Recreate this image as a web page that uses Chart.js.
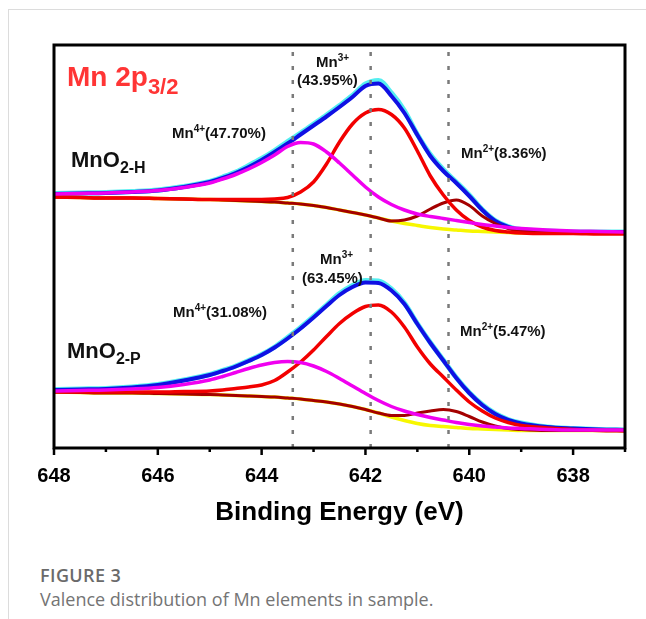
<!DOCTYPE html>
<html>
<head>
<meta charset="utf-8">
<script src="https://cdn.jsdelivr.net/npm/chart.js@4.4.1/dist/chart.umd.min.js"></script>
<style>
  body { margin: 0; background: #fff; }
  #card { position: absolute; left: 8px; top: 9px; right: 0; bottom: 0; border-top: 1px solid #dcdcdc; border-left: 1px solid #dcdcdc; }
  #wrap { position: absolute; left: 0; top: 0; width: 646px; height: 540px; }
  .cap { position: absolute; left: 40px; font-family: "Open Sans", sans-serif; white-space: nowrap; }
  #figno { top: 563px; font-size: 18px; font-weight: 600; letter-spacing: 0.4px; color: #6a6a6a; }
  #figtxt { top: 587px; font-size: 18px; color: #747474; }
</style>
</head>
<body>
<div id="card"></div>
<div id="wrap"><canvas id="xps"></canvas></div>
<div class="cap" id="figno">FIGURE 3</div>
<div class="cap" id="figtxt">Valence distribution of Mn elements in sample.</div>
<script>
// binding energy grid (eV), shared by every curve
const energy = [648, 647.5, 647, 646.5, 646, 645.5, 645, 644.75, 644.5, 644.25, 644, 643.75, 643.5, 643.25, 643,
  642.75, 642.5, 642.25, 642, 641.75, 641.5, 641.25, 641, 640.75, 640.5, 640.25, 640, 639.75, 639.5, 639.25, 639,
  638.5, 638, 637.5, 637];

// MnO2-H (upper trace, offset)
const hRaw      = [254.5, 255, 255.5, 256.5, 258, 261.5, 266.5, 271, 276, 282.5, 289.5, 297.5, 306.5, 315, 324, 333, 342.5, 352.5, 364, 367.5, 355, 337.5, 313.5, 293.5, 278.5, 266, 253, 238.5, 227.5, 221.5, 218.5, 217, 216, 216, 216];
const hEnvelope = [254, 254.5, 255, 256, 257.5, 261, 266, 270, 275, 281, 288, 296, 304.5, 313.5, 322.5, 331.5, 341, 351, 362, 364.5, 352, 335, 313, 292, 277, 265, 252, 238, 227, 221, 218, 216.5, 216, 216, 216];
const hMn3      = [251, 250.5, 250, 250, 249.5, 249, 248.5, 248.5, 248.5, 248.5, 248.5, 249, 250.5, 256, 266, 284, 306, 324, 335, 338.5, 333.5, 320, 297, 272, 253, 238, 227.5, 221, 217.5, 216, 215, 214.5, 214.5, 214, 214];
const hMn4      = [254, 254.5, 255, 256, 257.5, 260.5, 265, 269, 273.5, 279, 285.5, 293, 301.5, 305.5, 304, 296, 285, 273, 261, 251, 243.5, 238, 234, 231.5, 229.5, 227.5, 225.5, 223.5, 222, 220.5, 219.5, 218, 217, 216.5, 216];
const hMn2      = [251, 250.5, 250, 250, 249.5, 249, 248.5, 248, 247.5, 247, 246.5, 246, 245, 244, 242.5, 240.5, 238, 235.5, 233, 230, 227, 228, 232, 239, 245, 248, 242.5, 232, 224.5, 219.5, 217, 215.5, 215, 215, 215];
const hBackground = [251, 250.5, 250, 250, 249.5, 249, 248.5, 248, 247.5, 247, 246.5, 246, 245, 244, 242.5, 240.5, 238, 235.5, 233, 230, 227, 224.5, 222.5, 220.5, 219, 218, 217, 216.5, 216, 215.5, 215, 215, 215, 215, 215];

// MnO2-P (lower trace)
const pRaw      = [58.5, 59, 59.5, 61, 63.5, 68, 73.5, 77.5, 82, 87.5, 93.5, 101, 110.5, 120.5, 131.5, 143, 154.5, 162.5, 167.5, 167, 159, 145, 124.5, 105.5, 88, 70.5, 55.5, 43.5, 34.5, 28.5, 25, 21, 19.5, 18.5, 18];
const pEnvelope = [58, 58.5, 59, 60.5, 63, 67.5, 73, 77, 81.5, 87, 93, 100.5, 109.5, 119.5, 130.5, 142, 153, 161, 165.5, 165, 157.5, 144, 124, 105, 87.5, 70, 55, 43, 34, 28, 24.5, 21, 19.5, 18.5, 18];
const pMn3      = [56, 56, 56, 56, 56, 56.5, 57, 58, 59.5, 61, 63, 67.5, 76, 86, 98, 111.5, 124.5, 134.5, 141.5, 143, 136, 121, 101, 84, 71, 58, 46, 37, 30, 25.5, 22.5, 20, 18.5, 17.5, 17];
const pMn4      = [57, 57.5, 58, 59, 60.5, 63.5, 68, 71.5, 75.5, 79.5, 83, 85.5, 86.5, 85.5, 82, 76.5, 69.5, 62, 54.5, 47.5, 41.5, 37, 33.5, 30.5, 28, 25.5, 23.5, 22, 21, 20, 19.5, 18.5, 18, 18, 18];
const pMn2      = [56, 55.5, 55, 55, 54.5, 54, 53.5, 53, 52.5, 52, 51.5, 51, 50, 49, 47.5, 46, 44, 41.5, 38.5, 35, 32.5, 32.5, 35, 37, 38.5, 36.5, 31.5, 26, 22, 19.5, 18.5, 17.5, 17.5, 17.5, 17.5];
const pBackground = [56, 55.5, 55, 55, 54.5, 54, 53.5, 53, 52.5, 52, 51.5, 51, 50, 49, 47.5, 46, 44, 41.5, 38.5, 35, 31, 27.5, 24.5, 22.5, 21.5, 20.5, 19.5, 19, 18.5, 18, 17.5, 17.5, 17.5, 17.5, 17.5];

// fitted peak centres (dotted guides)
const peakCentres = [643.4, 641.9, 640.4];
const eMin = 637, eMax = 648;
const yMax = 403;

function series(values) {
    return energy.map((e, i) => ({x: e, y: values[i]}));
}

function curve(values, color, width, order) {
    return {
        data: series(values),
        borderColor: color,
        borderWidth: width,
        pointRadius: 0,
        fill: false,
        cubicInterpolationMode: 'monotone',
        order: order
    };
}

const BLUE = '#1010e4', CYAN = '#55eef0', RED = '#f20000', MAGENTA = '#f000f0', DARKRED = '#a40000', YELLOW = '#f7f700';

var datasets = [];
for (const set of [[hRaw, hEnvelope, hMn3, hMn4, hMn2, hBackground], [pRaw, pEnvelope, pMn3, pMn4, pMn2, pBackground]]) {
    datasets.push(curve(set[0], CYAN, 5, 7));
    datasets.push(curve(set[1], BLUE, 4, 6));
    datasets.push(curve(set[5], YELLOW, 3.5, 5));
    datasets.push(curve(set[4], DARKRED, 3, 4));
    datasets.push(curve(set[2], RED, 3.5, 3));
    datasets.push(curve(set[3], MAGENTA, 3.5, 2));
}
for (const c of peakCentres) {
    datasets.push({
        data: [{x: c, y: 0}, {x: c, y: yMax}],
        borderColor: '#7a7a7a',
        borderWidth: 2.5,
        borderDash: [4, 10],
        pointRadius: 0,
        order: 0
    });
}

const B = '"Liberation Sans", Arial, sans-serif';

// text made of runs: [text, size, baseline shift]
function rich(ctx, runs, x, y, color) {
    ctx.fillStyle = color;
    ctx.textBaseline = 'alphabetic';
    ctx.textAlign = 'left';
    for (const r of runs) {
        ctx.font = 'bold ' + r[1] + 'px ' + B;
        ctx.fillText(r[0], x, y + (r[2] || 0));
        x += ctx.measureText(r[0]).width;
    }
}

const labels = [
    {runs: [['Mn 2p', 28], ['3/2', 22, 8]], x: 67, y: 86, color: '#ff3535'},
    {runs: [['MnO', 22], ['2-H', 16, 6]], x: 71, y: 167, color: '#111'},
    {runs: [['MnO', 22], ['2-P', 16, 6]], x: 67, y: 358, color: '#111'},
    {runs: [['Mn', 15], ['4+', 10, -6], ['(47.70%)', 15]], x: 172, y: 138, color: '#111'},
    {runs: [['Mn', 15], ['3+', 10, -6]], x: 316, y: 67, color: '#111'},
    {runs: [['(43.95%)', 15]], x: 297, y: 85, color: '#111'},
    {runs: [['Mn', 15], ['2+', 10, -6], ['(8.36%)', 15]], x: 461, y: 158, color: '#111'},
    {runs: [['Mn', 15], ['3+', 10, -6]], x: 320, y: 264, color: '#111'},
    {runs: [['(63.45%)', 15]], x: 302, y: 283, color: '#111'},
    {runs: [['Mn', 15], ['4+', 10, -6], ['(31.08%)', 15]], x: 173, y: 317, color: '#111'},
    {runs: [['Mn', 15], ['2+', 10, -6], ['(5.47%)', 15]], x: 460, y: 336, color: '#111'}
];

const frame = {
    id: 'frame',
    afterDatasetsDraw(chart) {
        const ctx = chart.ctx, a = chart.chartArea, xs = chart.scales.x;
        ctx.save();
        ctx.strokeStyle = '#000';
        ctx.lineWidth = 3;
        ctx.strokeRect(a.left, a.top, a.right - a.left, a.bottom - a.top);
        // outward ticks, long on even eV
        ctx.lineWidth = 2.5;
        for (const t of xs.ticks) {
            const px = xs.getPixelForValue(t.value);
            const len = t.value % 2 === 0 ? 7 : 4;
            ctx.beginPath();
            ctx.moveTo(px, a.bottom);
            ctx.lineTo(px, a.bottom + len);
            ctx.stroke();
        }
        for (const l of labels) rich(ctx, l.runs, l.x, l.y, l.color);
        ctx.restore();
    }
};

new Chart(document.getElementById('xps'), {
    type: 'line',
    data: {datasets: datasets},
    options: {
        responsive: true,
        maintainAspectRatio: false,
        animation: false,
        events: [],
        layout: {padding: {left: 54, right: 21, top: 45, bottom: 0}},
        plugins: {legend: {display: false}, tooltip: {enabled: false}},
        scales: {
            x: {
                type: 'linear',
                reverse: true,
                min: eMin,
                max: eMax,
                afterFit: (scale) => { scale.height = 92; },
                grid: {display: false, drawTicks: false},
                border: {display: false},
                ticks: {
                    stepSize: 1,
                    autoSkip: false,
                    maxRotation: 0,
                    padding: 16,
                    color: '#000',
                    font: {family: B, size: 20, weight: 'bold'},
                    callback: (v) => v % 2 === 0 ? v : ''
                },
                title: {
                    display: true,
                    text: 'Binding Energy (eV)',
                    color: '#000',
                    font: {family: B, size: 26, weight: 'bold'},
                    padding: {top: 0, bottom: 12}
                }
            },
            y: {
                display: false,
                min: 0,
                max: yMax
            }
        }
    },
    plugins: [frame]
});
</script>
</body>
</html>
